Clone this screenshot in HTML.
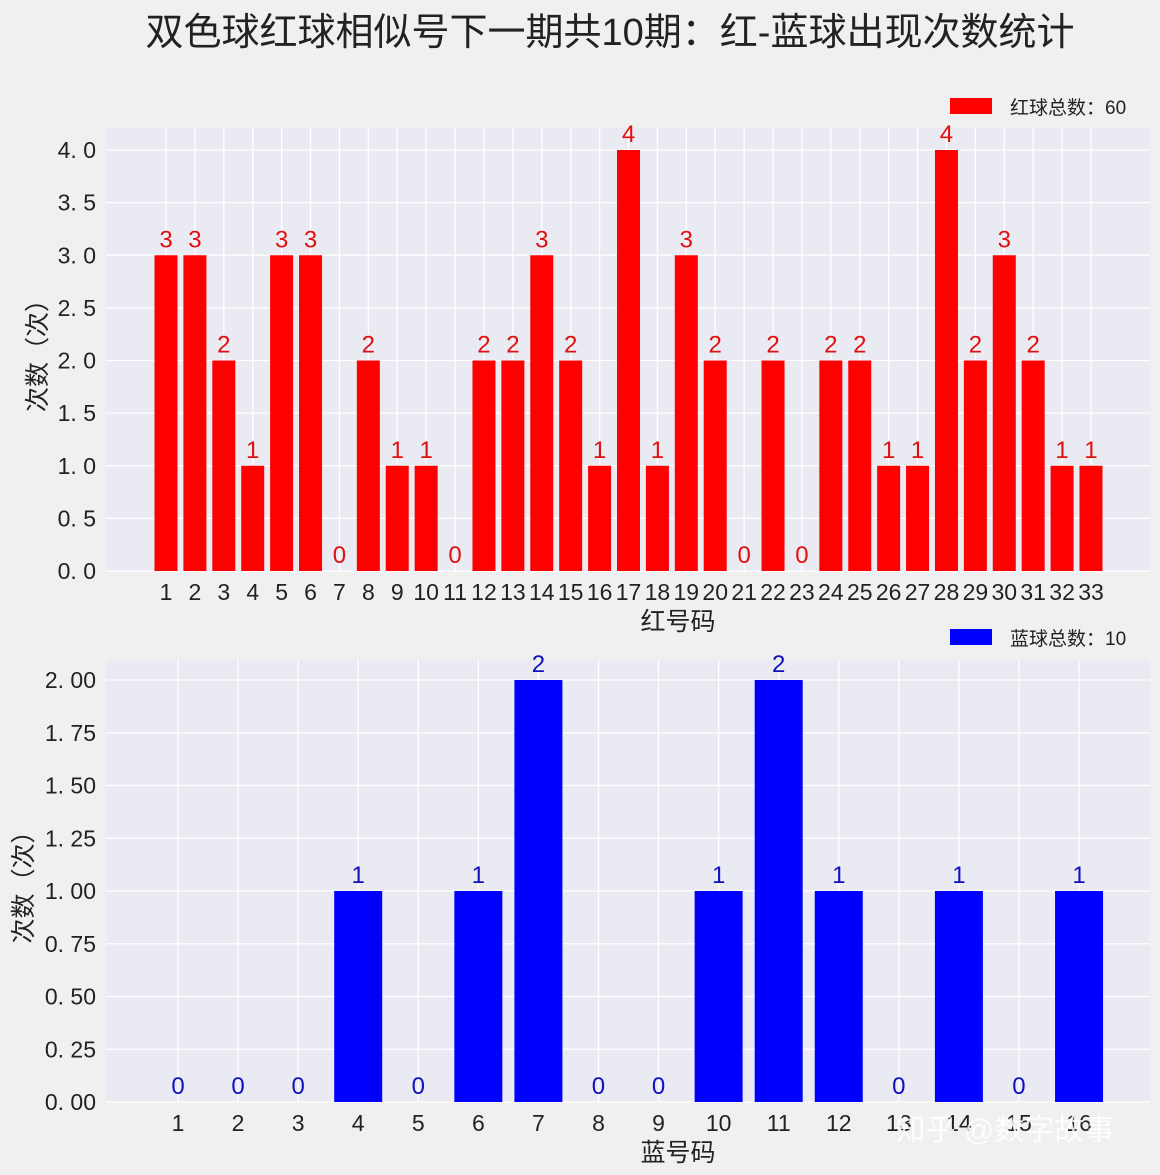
<!DOCTYPE html>
<html><head><meta charset="utf-8"><style>
html,body{margin:0;padding:0;background:#f0f0f0;}
svg{display:block;font-family:"Liberation Sans","WenQuanYi Zen Hei","Noto Sans CJK SC",sans-serif;}
</style></head><body>
<svg id="chart" width="1160" height="1175" viewBox="0 0 1160 1175">
<rect x="0" y="0" width="1160" height="1175" fill="#f0f0f0"/>
<text x="610" y="45" font-size="38" text-anchor="middle" fill="#222">双色球红球相似号下一期共10期：红-蓝球出现次数统计</text>
<g id="top"></g>
<g id="bot"></g>
<text x="1005" y="1140" font-size="30" text-anchor="middle" fill="#ffffff" fill-opacity="0.85">知乎 @数字故事</text>
</svg>
<script>
const redCats=[1,2,3,4,5,6,7,8,9,10,11,12,13,14,15,16,17,18,19,20,21,22,23,24,25,26,27,28,29,30,31,32,33];
const redVals=[3,3,2,1,3,3,0,2,1,1,0,2,2,3,2,1,4,1,3,2,0,2,0,2,2,1,1,4,2,3,2,1,1];
const redTicks=["0. 0","0. 5","1. 0","1. 5","2. 0","2. 5","3. 0","3. 5","4. 0"];
const redTickVals=[0,0.5,1,1.5,2,2.5,3,3.5,4];
const blueCats=[1,2,3,4,5,6,7,8,9,10,11,12,13,14,15,16];
const blueVals=[0,0,0,1,0,1,2,0,0,1,2,1,0,1,0,1];
const blueTicks=["0. 00","0. 25","0. 50","0. 75","1. 00","1. 25","1. 50","1. 75","2. 00"];
const blueTickVals=[0,0.25,0.5,0.75,1,1.25,1.5,1.75,2];
const NS="http://www.w3.org/2000/svg";
function mk(p,t,a){const e=document.createElementNS(NS,t);for(const k in a)e.setAttribute(k,a[k]);p.appendChild(e);return e;}
function draw(g,o){
  const {cats,vals,ticks,tickVals,L,R,T,B,ymax,x0,step,bw,color,lblColor,xlabel,legend,legY}=o;
  const X=i=>x0+(cats[i]-cats[0])*step;
  const Y=v=>B-(v/ymax)*(B-(o.ytop));
  const bg=mk(g,'rect',{x:L,y:T,width:R-L,height:B-T,fill:'#eaeaf2'});
  
  
  tickVals.forEach((v,i)=>{
    const gl=mk(g,'line',{x1:L,x2:R,y1:Y(v),y2:Y(v),stroke:'#fff','stroke-width':1.3});
    
    
    const t=mk(g,'text',{x:L-10,y:Y(v)+8,'font-size':23,'text-anchor':'end',fill:'#222'});
    t.textContent=ticks[i];
    
    
  });
  cats.forEach((c,i)=>{
    const gl=mk(g,'line',{x1:X(i),x2:X(i),y1:T,y2:B,stroke:'#fff','stroke-width':1.3});
    
    
  });
  cats.forEach((c,i)=>{
    const v=vals[i];
    if(v>0){
      const r=mk(g,'rect',{x:X(i)-bw/2,y:Y(v),width:bw,height:B-Y(v),fill:color});
      
      
    }
    const l=mk(g,'text',{x:X(i),y:Y(v)-8,'font-size':24,'text-anchor':'middle',fill:lblColor});
    l.textContent=v;
    
    
    const t=mk(g,'text',{x:X(i),y:B+29,'font-size':23,'text-anchor':'middle',fill:'#222'});
    t.textContent=c;
    
    
  });
  const xl=mk(g,'text',{x:(L+R)/2+50,y:B+59,'font-size':25,'text-anchor':'middle',fill:'#222'});
  xl.textContent=xlabel;
  
  
  const yl=mk(g,'text',{x:0,y:0,'font-size':25,'text-anchor':'middle',fill:'#222',transform:`translate(${o.ylx},${(T+B)/2}) rotate(-90)`});
  yl.textContent='次数（次）';
  
  
  const lr=mk(g,'rect',{x:950,y:legY-8,width:42,height:16,fill:color});
  
  
  const lt=mk(g,'text',{x:1010,y:legY+8,'font-size':19,fill:'#222'});
  lt.textContent=legend;
  
  
}
draw(document.getElementById('top'),{cats:redCats,vals:redVals,ticks:redTicks,tickVals:redTickVals,
  L:106,R:1150,T:128,B:571,ytop:150,ymax:4,x0:166,step:28.906,bw:23,color:'#ff0000',lblColor:'#e01010',
  xlabel:'红号码',legend:'红球总数：60',legY:106,ylx:46});
draw(document.getElementById('bot'),{cats:blueCats,vals:blueVals,ticks:blueTicks,tickVals:blueTickVals,
  L:106,R:1150,T:660,B:1102,ytop:680,ymax:2,x0:178,step:60.07,bw:48,color:'#0000ff',lblColor:'#1010c0',
  xlabel:'蓝号码',legend:'蓝球总数：10',legY:637,ylx:32});
</script>
</body></html>
